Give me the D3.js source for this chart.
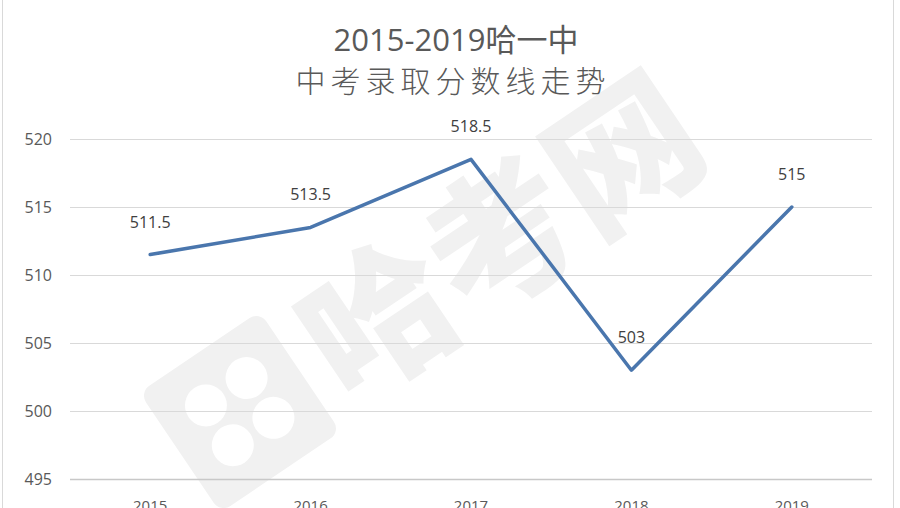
<!DOCTYPE html>
<html>
<head>
<meta charset="utf-8">
<script src="https://cdn.jsdelivr.net/npm/d3@7"></script>
<style>
  html, body { margin: 0; padding: 0; background: #fff; }
  svg { display: block; }
</style>
</head>
<body>
<svg id="chart" width="900" height="508"></svg>
<script>
// Admission cut-off scores by year
const years = ["2015", "2016", "2017", "2018", "2019"];
const scores = [511.5, 513.5, 518.5, 503, 515];
const yTicks = [495, 500, 505, 510, 515, 520];
const titleLines = ["2015-2019哈一中", "中考录取分数线走势"];

const svg = d3.select("#chart");
const W = 900, H = 508;
const margin = { left: 70, right: 28, top: 139, bottom: 29 };

const x = d3.scaleBand().domain(years).range([margin.left, W - margin.right]);
const y = d3.scaleLinear().domain([495, 520]).range([H - margin.bottom, margin.top]);

// outer frame
svg.append("rect").attr("x", 2.5).attr("y", -2).attr("width", 891).attr("height", 520)
  .attr("fill", "#fff").attr("stroke", "#d9d9d9");

// faint watermark
const wm = svg.append("g").attr("transform", "translate(420,290) rotate(-34)");
wm.append("rect").attr("x", -290).attr("y", -72).attr("width", 145).attr("height", 145).attr("rx", 12)
  .attr("fill", "#f1f1f1");
[[-242, -24, 21], [-193, -24, 21], [-242, 24, 21], [-193, 24, 21]].forEach(([cx, cy, r]) =>
  wm.append("circle").attr("cx", cx).attr("cy", cy).attr("r", r).attr("fill", "#fff"));
wm.append("text").attr("x", -125).attr("y", 56)
  .attr("font-family", "Noto Sans CJK SC").attr("font-weight", 900).attr("font-size", 148)
  .attr("fill", "#f1f1f1").text("哈考网");

// horizontal gridlines
svg.append("g").selectAll("line").data(yTicks).join("line")
  .attr("x1", margin.left).attr("x2", W - margin.right)
  .attr("y1", d => Math.round(y(d)) + 0.5).attr("y2", d => Math.round(y(d)) + 0.5)
  .attr("stroke", d => d === 495 ? "#c8c8c8" : "#d9d9d9").attr("stroke-width", d => d === 495 ? 1.5 : 1.2);

// y axis labels
const yAxis = d3.axisLeft(y).tickValues(yTicks).tickSize(0).tickPadding(18);
const ya = svg.append("g").attr("transform", `translate(${margin.left},0)`).call(yAxis);
ya.select(".domain").remove();
ya.selectAll("text").attr("font-family", "Open Sans, Liberation Sans, sans-serif")
  .attr("font-size", 16).attr("fill", "#595959");

// x axis labels
const xAxis = d3.axisBottom(x).tickSize(0).tickPadding(21);
const xa = svg.append("g").attr("transform", `translate(0,${H - margin.bottom})`).call(xAxis);
xa.select(".domain").remove();
xa.selectAll("text").attr("font-family", "Open Sans, Liberation Sans, sans-serif")
  .attr("font-size", 15).attr("fill", "#595959");

// series line
const line = d3.line().x((d, i) => x(years[i]) + x.bandwidth() / 2).y(d => y(d));
svg.append("path").datum(scores).attr("d", line)
  .attr("fill", "none").attr("stroke", "#4a76ad").attr("stroke-width", 3.5)
  .attr("stroke-linejoin", "round").attr("stroke-linecap", "round");

// data labels
svg.append("g").selectAll("text").data(scores).join("text")
  .attr("x", (d, i) => x(years[i]) + x.bandwidth() / 2)
  .attr("y", d => y(d) - 27)
  .attr("text-anchor", "middle")
  .attr("font-family", "Open Sans, Liberation Sans, sans-serif")
  .attr("font-size", 16).attr("fill", "#404040")
  .text(d => d);

// title
const t = svg.append("text").attr("text-anchor", "middle").attr("fill", "#595959");
t.append("tspan").attr("x", 456).attr("y", 51)
  .attr("font-family", "Open Sans, Noto Sans CJK SC, sans-serif").attr("font-size", 31)
  .text(titleLines[0]);
t.append("tspan").attr("x", 453).attr("y", 92)
  .attr("font-family", "Noto Sans CJK SC, sans-serif").attr("font-weight", 300).attr("font-size", 30)
  .attr("letter-spacing", 5)
  .text(titleLines[1]);
</script>
</body>
</html>
